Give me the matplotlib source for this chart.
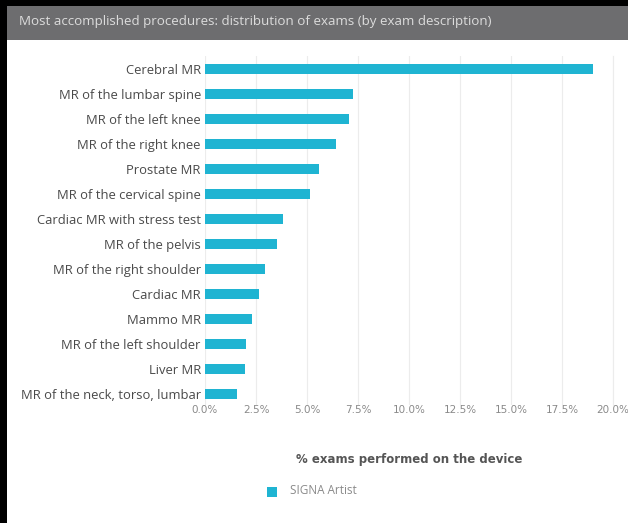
import numpy as np
import matplotlib.pyplot as plt
from matplotlib.patches import Rectangle
from matplotlib.ticker import FuncFormatter

procedures = ["Cerebral MR", "MR of the lumbar spine", "MR of the left knee",
              "MR of the right knee", "Prostate MR", "MR of the cervical spine",
              "Cardiac MR with stress test", "MR of the pelvis",
              "MR of the right shoulder", "Cardiac MR", "Mammo MR",
              "MR of the left shoulder", "Liver MR", "MR of the neck, torso, lumbar"]
share = [19.0, 7.25, 7.05, 6.4, 5.6, 5.15, 3.8, 3.55, 2.95, 2.65, 2.3, 2.0, 1.95, 1.55]
xticks = [0, 2.5, 5, 7.5, 10, 12.5, 15, 17.5, 20]
series_name = "SIGNA Artist"
title = "Most accomplished procedures: distribution of exams (by exam description)"
xlabel = "% exams performed on the device"

bar_color = "#1fb4d2"

fig = plt.figure(figsize=(6.28, 5.23), dpi=100)
fig.patch.set_facecolor("white")

# black frame and grey title bar
fig.patches.append(Rectangle((0, 0), 1, 1, transform=fig.transFigure,
                             facecolor="black", zorder=0))
fig.patches.append(Rectangle((7/628, 0), 1, 1 - 6/523, transform=fig.transFigure,
                             facecolor="white", zorder=0.5))
fig.patches.append(Rectangle((7/628, 1 - 40/523), 1, 34/523, transform=fig.transFigure,
                             facecolor="#6d6d6f", zorder=1))
fig.text(19/628, 1 - 22/523, title, color="#dcdcdc", fontsize=9.6,
         family="Open Sans", va="center", ha="left")

ax = fig.add_axes([205/628, 1 - 405/523, 408/628, 349/523])
ax.set_zorder(5)
y = np.arange(len(procedures))
ax.barh(y, share, height=0.42, color=bar_color, zorder=3)
ax.set_ylim(len(procedures) - 0.56, -0.52)
ax.set_xlim(0, 20)
ax.set_yticks(y)
ax.set_yticklabels(procedures, fontsize=9.4, color="#4a4a4a", family="Open Sans")
ax.set_xticks(xticks)
ax.xaxis.set_major_formatter(FuncFormatter(lambda v, p: f"{v:.1f}%"))
ax.tick_params(axis="x", labelsize=7.5, labelcolor="#8a8a8a", length=0, pad=0)
ax.tick_params(axis="y", length=0, pad=3)
ax.grid(axis="x", color="#ececec", linewidth=0.8, zorder=0)
for s in ["left", "top", "bottom"]:
    ax.spines[s].set_visible(False)
ax.spines["right"].set_color("#ececec")
ax.set_xlabel(xlabel, fontsize=8.5, fontweight="bold", color="#555555",
              family="DejaVu Sans", labelpad=27)

fig.patches.append(Rectangle((267/628, 1 - 497/523), 10/628, 10/523,
                             transform=fig.transFigure, facecolor=bar_color, zorder=2))
fig.text(290/628, 1 - 491/523, series_name, color="#8a8a8a", fontsize=8.5,
         family="Open Sans", va="center", ha="left")

fig.savefig("out.png", dpi=100)
